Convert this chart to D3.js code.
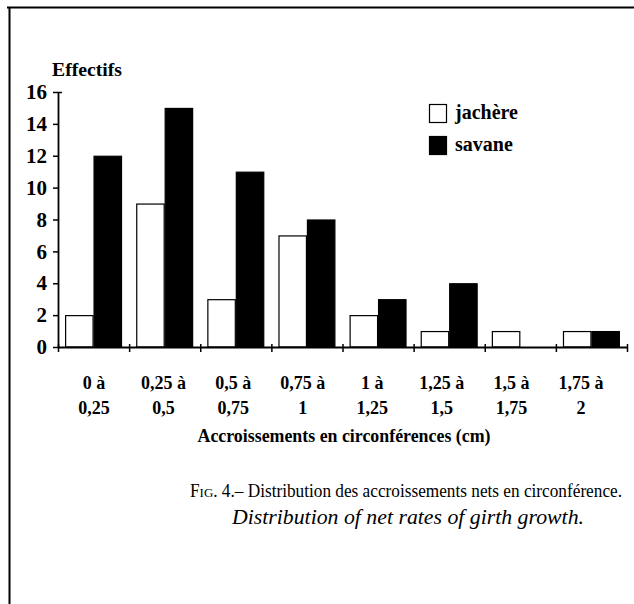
<!DOCTYPE html>
<html>
<head>
<meta charset="utf-8">
<script src="https://cdn.jsdelivr.net/npm/d3@7/dist/d3.min.js"></script>
<style>
	body { margin: 0; background: #fff; }
	svg { display: block; }
	text { font-family: "Liberation Serif", "Times New Roman", serif; fill: #000; }
</style>
</head>
<body>
<svg id="figure_container"></svg>
<script>
var categories = ["0-0,25", "0,25-0,5", "0,5-0,75", "0,75-1", "1-1,25", "1,25-1,5", "1,5-1,75", "1,75-2"],
	labelTop = ["0 à", "0,25 à", "0,5 à", "0,75 à", "1 à", "1,25 à", "1,5 à", "1,75 à"],
	labelBottom = ["0,25", "0,5", "0,75", "1", "1,25", "1,5", "1,75", "2"],
	series = ["jachère", "savane"],
	jachere = [2, 9, 3, 7, 2, 1, 1, 1],
	savane = [12, 15, 11, 8, 3, 4, 0, 1],
	yTicks = [0, 2, 4, 6, 8, 10, 12, 14, 16];

var plotwidth = 634,
	plotheight = 604,
	xLeft = 58, xRight = 627,
	yBase = 347, yTop = 92;

var vis = d3.select("#figure_container")
	.attr("width", plotwidth).attr("height", plotheight);

// frame of the scanned figure (top and left edges only)
vis.append("line").attr("x1", 7).attr("y1", 7.5).attr("x2", 634).attr("y2", 7.5)
	.attr("stroke", "#000").attr("stroke-width", 2);
vis.append("line").attr("x1", 9.5).attr("y1", 7).attr("x2", 9.5).attr("y2", 604)
	.attr("stroke", "#000").attr("stroke-width", 2);

var x = d3.scaleBand().domain(categories).range([xLeft, xRight]).padding(0),
	xs = d3.scaleBand().domain(series).range([0, x.bandwidth()]).paddingInner(0).paddingOuter(0.25),
	xLin = d3.scaleLinear().domain([0, categories.length]).range([xLeft, xRight]),
	xLab = d3.scalePoint().domain(categories).range([94, 581]),
	y = d3.scaleLinear().domain([0, 16]).range([yBase, yTop]);

var rows = categories.map(function(c, i){
	return {cat: c, values: [
		{key: "jachère", value: jachere[i]},
		{key: "savane", value: savane[i]}
	]};
});

// bars
var groups = vis.selectAll("g.grp")
	.data(rows)
	.enter()
	.append("g")
	.attr("class", "grp")
	.attr("transform", function(d){ return "translate(" + x(d.cat) + ",0)"; });

groups.selectAll("rect")
	.data(function(d){ return d.values.filter(function(v){ return v.value > 0; }); })
	.enter()
	.append("rect")
	.attr("x", function(d){ return xs(d.key) + 0.5; })
	.attr("y", function(d){ return y(d.value) + 0.5; })
	.attr("width", xs.bandwidth() - 1)
	.attr("height", function(d){ return y(0) - y(d.value) - 0.5; })
	.attr("fill", function(d){ return d.key == "savane" ? "#000" : "#fff"; })
	.attr("stroke", "#000")
	.attr("stroke-width", 1.2);

// y axis
var yAxis = vis.append("g")
	.attr("transform", "translate(" + xLeft + ",0)")
	.call(d3.axisLeft(y).tickValues(yTicks).tickSizeInner(5).tickSizeOuter(0).tickPadding(6));
yAxis.select(".domain").attr("stroke-width", 1.8);
yAxis.selectAll(".tick line").attr("stroke-width", 1.5);
yAxis.selectAll(".tick line").filter(function(d){ return d == 16; }).attr("x2", 4).attr("x1", -5);
yAxis.selectAll(".tick text")
	.attr("font-family", "Liberation Serif")
	.attr("font-size", 21)
	.attr("font-weight", "bold")
	.attr("fill", "#000");

vis.append("text")
	.attr("x", 52).attr("y", 76)
	.attr("font-size", 18).attr("font-weight", "bold")
	.attr("textLength", 70).attr("lengthAdjust", "spacingAndGlyphs")
	.text("Effectifs");

// x axis, ticks at class limits
var xAxis = vis.append("g")
	.attr("transform", "translate(0," + yBase + ")")
	.call(d3.axisBottom(xLin).ticks(categories.length).tickSizeInner(5).tickSizeOuter(0).tickFormat(""));
xAxis.select(".domain").attr("stroke-width", 1.8);
xAxis.selectAll(".tick line").attr("y1", -3).attr("stroke-width", 1.5);

var xlab = vis.append("g").attr("font-size", 18).attr("font-weight", "bold").attr("text-anchor", "middle");
xlab.selectAll("text.l1")
	.data(categories)
	.enter()
	.append("text")
	.attr("class", "l1")
	.attr("x", function(d){ return xLab(d); })
	.attr("y", 389)
	.text(function(d, i){ return labelTop[i]; });
xlab.selectAll("text.l2")
	.data(categories)
	.enter()
	.append("text")
	.attr("class", "l2")
	.attr("x", function(d){ return xLab(d); })
	.attr("y", 414)
	.text(function(d, i){ return labelBottom[i]; });

vis.append("text")
	.attr("x", 344).attr("y", 442)
	.attr("text-anchor", "middle")
	.attr("font-size", 18).attr("font-weight", "bold")
	.attr("textLength", 293).attr("lengthAdjust", "spacingAndGlyphs")
	.text("Accroissements en circonférences (cm)");

// legend
var legend = vis.append("g").attr("transform", "translate(429,104)");
legend.selectAll("rect")
	.data(series)
	.enter()
	.append("rect")
	.attr("x", 0.5)
	.attr("y", function(d, i){ return i*32 + 0.5; })
	.attr("width", 17).attr("height", 18)
	.attr("fill", function(d){ return d == "savane" ? "#000" : "#fff"; })
	.attr("stroke", "#000").attr("stroke-width", 1.2);
legend.selectAll("text")
	.data(series)
	.enter()
	.append("text")
	.attr("x", 26)
	.attr("y", function(d, i){ return i*32 + 15; })
	.attr("font-size", 20).attr("font-weight", "bold")
	.text(function(d){ return d; });

// caption
var cap = vis.append("text")
	.attr("x", 406).attr("y", 497)
	.attr("text-anchor", "middle")
	.attr("font-size", 18)
	.attr("textLength", 432).attr("lengthAdjust", "spacingAndGlyphs");
cap.append("tspan").text("F");
cap.append("tspan").attr("font-size", 13.5).text("IG");
cap.append("tspan").text(". 4.– Distribution des accroissements nets en circonférence.");

vis.append("text")
	.attr("x", 408).attr("y", 524)
	.attr("text-anchor", "middle")
	.attr("font-size", 20).attr("font-style", "italic")
	.attr("textLength", 352).attr("lengthAdjust", "spacingAndGlyphs")
	.text("Distribution of net rates of girth growth.");
</script>
</body>
</html>
